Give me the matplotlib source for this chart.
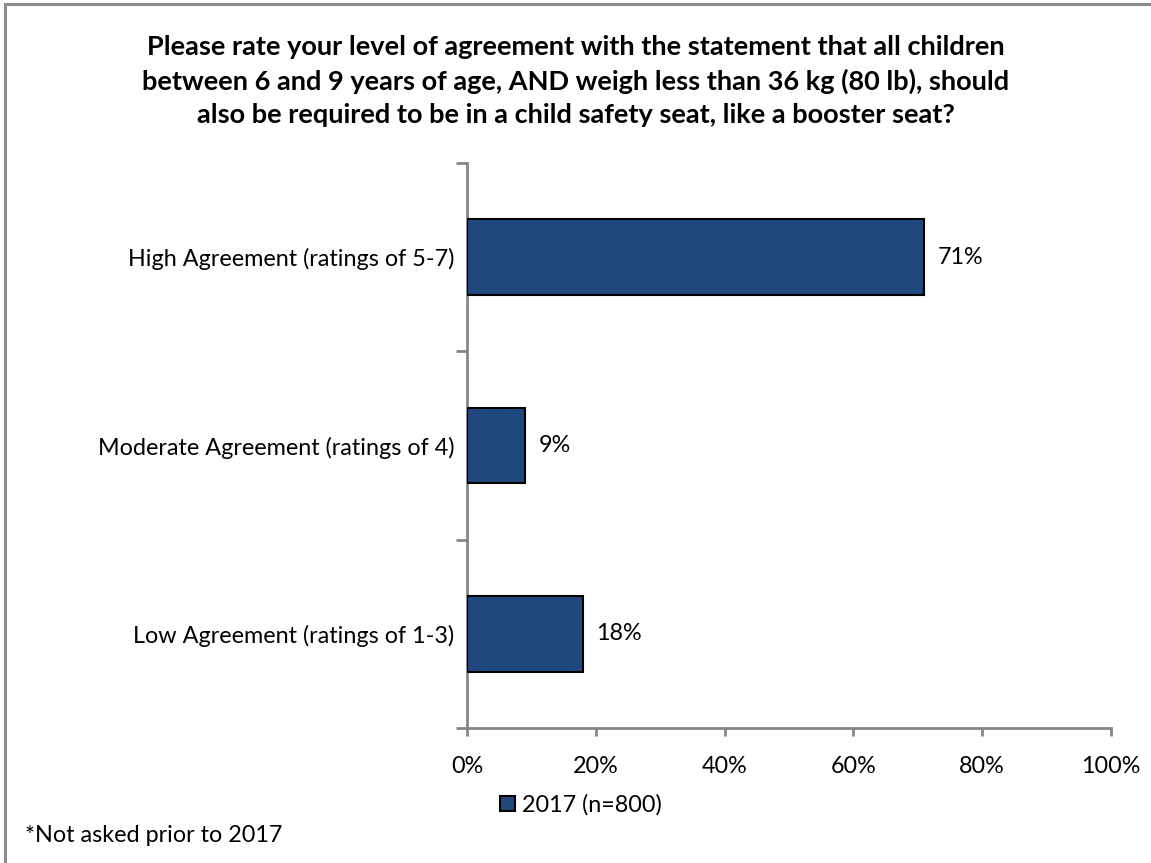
import matplotlib.pyplot as plt
from matplotlib.patches import Rectangle

plt.rcParams['font.family'] = ['Lato', 'DejaVu Sans']

categories = ["Low Agreement (ratings of 1-3)",
              "Moderate Agreement (ratings of 4)",
              "High Agreement (ratings of 5-7)"]
values = [18, 9, 71]
series_label = "2017 (n=800)"
title = ("Please rate your level of agreement with the statement that all children\n"
         "between 6 and 9 years of age, AND weigh less than 36 kg (80 lb), should\n"
         "also be required to be in a child safety seat, like a booster seat?")
footnote = "*Not asked prior to 2017"

W, H = 1151, 863
fig = plt.figure(figsize=(W / 100, H / 100), dpi=100)

# frame around the chart area (runs off the right/bottom edges)
fig.patches.append(Rectangle((5 / W, -0.1), 1.2, (H - 4) / H + 0.1, transform=fig.transFigure,
                             fill=False, edgecolor="#8c8c8c", linewidth=2.2))

ax = fig.add_axes([467 / W, (H - 728) / H, (1111 - 467) / W, (728 - 163) / H])

FS = 16.8
bar_color = "#1F497D"
bars = ax.barh(range(len(categories)), values, height=0.40, color=bar_color,
               edgecolor="black", linewidth=1.5, label=series_label, zorder=3)

for i, v in enumerate(values):
    ax.text(v + 2.1, i, f"{v}%", va="center", ha="left", fontsize=FS, color="black")

ax.set_xlim(0, 100)
ax.set_ylim(-0.5, len(categories) - 0.5)
ax.set_xticks(range(0, 101, 20))
ax.set_xticklabels([f"{t}%" for t in range(0, 101, 20)], fontsize=FS)
ax.tick_params(axis="x", length=6, width=2, color="#868686", pad=14)

ax.set_yticks(range(len(categories)))
ax.set_yticklabels(categories, fontsize=FS)
ax.tick_params(axis="y", length=0, pad=9)
ax.set_yticks([-0.5 + k for k in range(len(categories) + 1)], minor=True)
ax.tick_params(axis="y", which="minor", length=8, width=2, color="#868686")

for side in ("top", "right"):
    ax.spines[side].set_visible(False)
for side in ("left", "bottom"):
    ax.spines[side].set_color("#868686")
    ax.spines[side].set_linewidth(2)

fig.text(576 / W, 1 - 81 / H, title, ha="center", va="center", fontsize=19.5,
         fontweight="bold", linespacing=1.43)

leg = fig.legend(handles=[bars], loc="center", bbox_to_anchor=(581 / W, 1 - 805 / H),
                 frameon=False, fontsize=FS, handlelength=0.65, handleheight=0.65,
                 handletextpad=0.3)

fig.text(25 / W, 1 - 835 / H, footnote, ha="left", va="center", fontsize=FS)

fig.savefig("out.png", dpi=100)
